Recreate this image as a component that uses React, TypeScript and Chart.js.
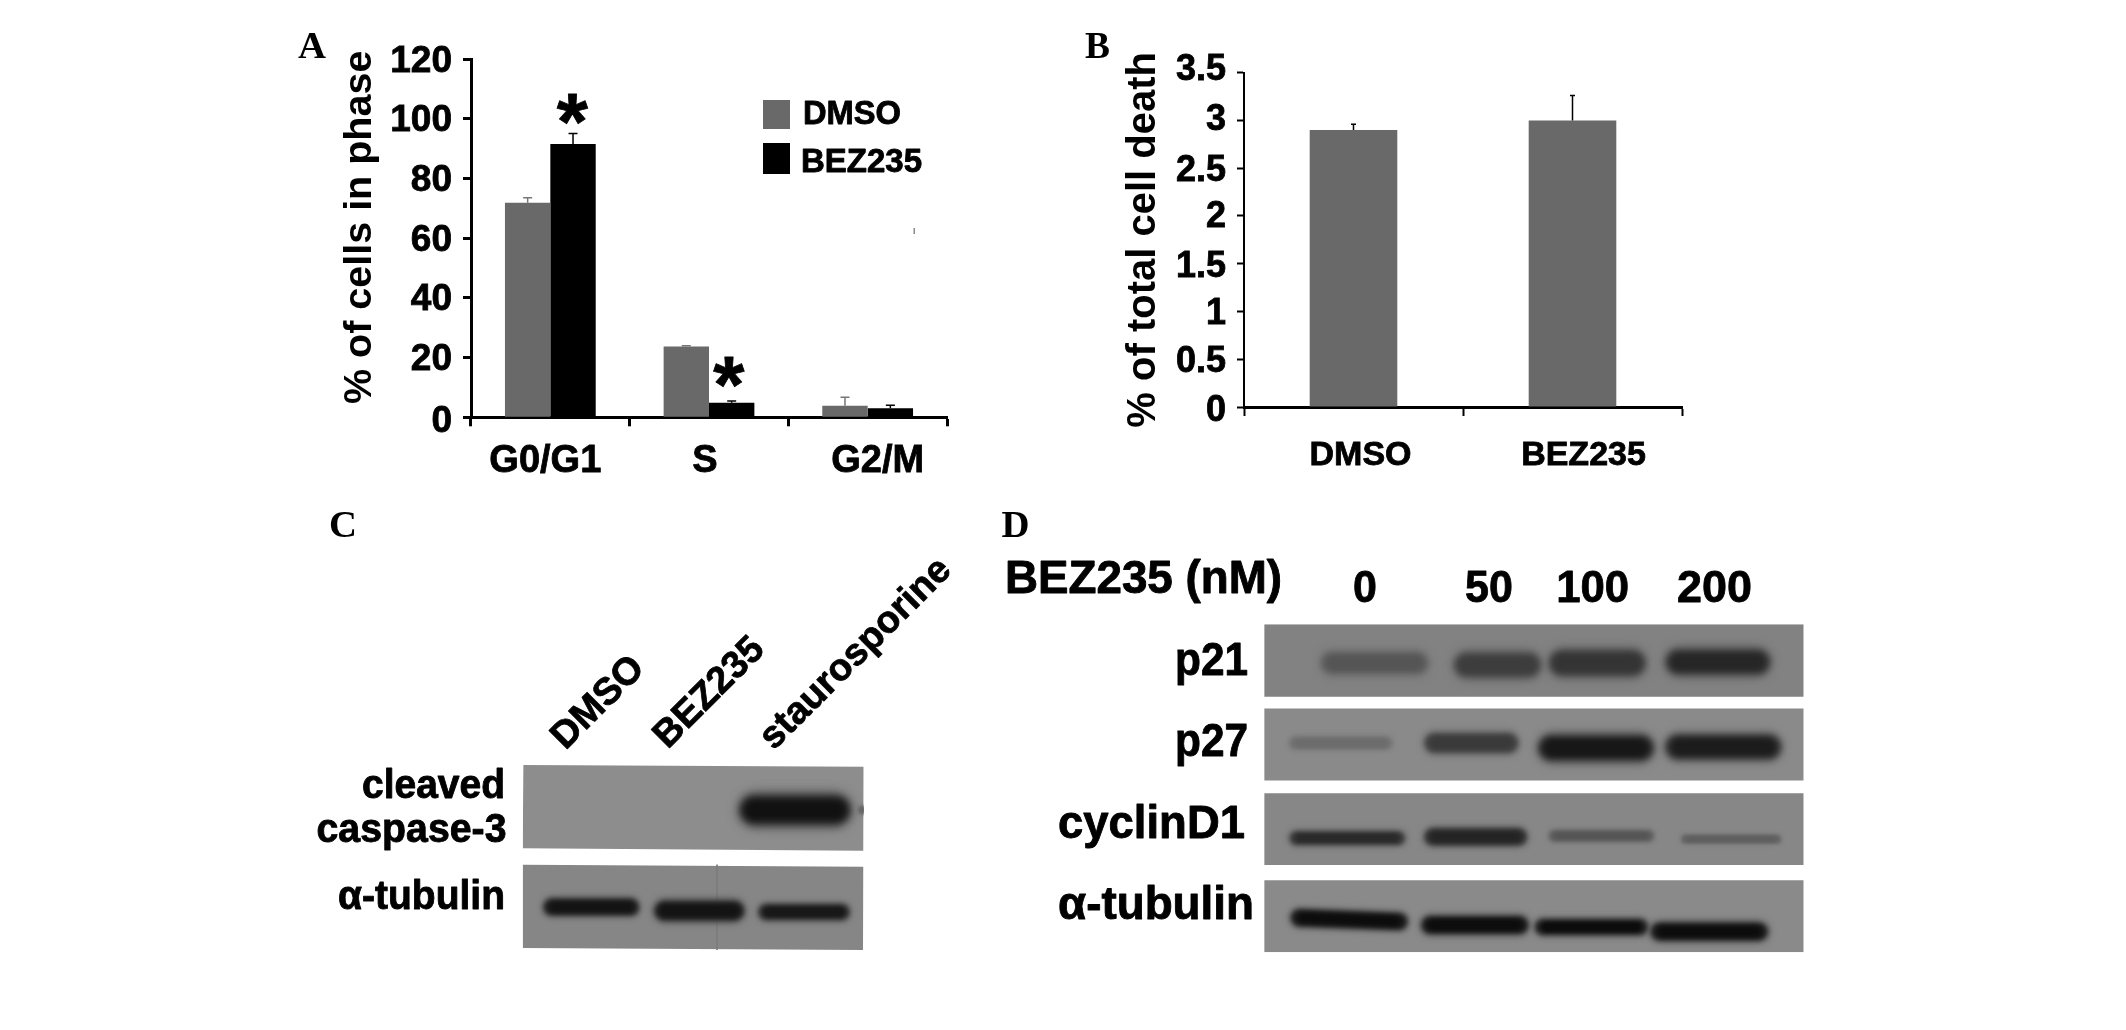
import React, { useEffect, useRef } from "react";
import { Chart, registerables } from "chart.js";

Chart.register(...registerables);

const SANS = "'Liberation Sans', Arial, sans-serif";
const SERIF = "'Liberation Serif', serif";
const BAR_GREY = "#696969";

// Panel A
const phaseLabels = ["G0/G1", "S", "G2/M"];
const dmsoPhase = [71.9, 23.7, 3.9];
const bezPhase = [91.6, 4.9, 3.0];
const dmsoPhaseTop = [73.6, 24.0, 6.7];
const bezPhaseTop = [95.1, 5.5, 4.0];
const phaseTicks = [0, 20, 40, 60, 80, 100, 120];

// Panel B
const deathLabels = ["DMSO", "BEZ235"];
const deathValues = [2.9, 3.0];
const deathTop = [2.96, 3.26];
const deathTicks = [0, 0.5, 1, 1.5, 2, 2.5, 3, 3.5];

// Panel C (positions in % of gel width / height; signal is band density 0..1)
const caspaseBands = [
  { from: 63.2, to: 96.5, y: 24.3, thick: 14.6, signal: 0.93 },
  { from: 99.4, to: 99.9, y: 24.3, thick: 4, signal: 0.3 },
];
const tubulinCBands = [
  { from: 5.8, to: 34.4, y: 76.8, thick: 8.1, signal: 0.92 },
  { from: 38.3, to: 65.3, y: 78.8, thick: 9.7, signal: 0.92 },
  { from: 68.9, to: 96.1, y: 79.5, thick: 7.6, signal: 0.88 },
];
const gelCStrips = [
  { shade: "#8d8d8d", corners: [[0.2, 0], [100, 0.9], [99.9, 46.3], [0, 45]] },
  { shade: "#868686", corners: [[0, 53.9], [99.9, 55], [99.8, 100], [0, 98.9]] },
];

// Panel D
const p21Bands = [
  { from: 10.3, to: 30.6, y: 11.8, thick: 6.1, signal: 0.42 },
  { from: 35, to: 51.5, y: 12.4, thick: 7, signal: 0.6 },
  { from: 52.6, to: 70.9, y: 11.8, thick: 7.3, signal: 0.67 },
  { from: 74.2, to: 94, y: 11.5, thick: 7, signal: 0.77 },
];
const p27Bands = [
  { from: 4.5, to: 23.9, y: 36.2, thick: 3.4, signal: 0.24 },
  { from: 29.5, to: 47.3, y: 36.2, thick: 5.5, signal: 0.62 },
  { from: 50.6, to: 72.4, y: 37.7, thick: 7, signal: 0.89 },
  { from: 74.2, to: 96, y: 37.4, thick: 6.7, signal: 0.85 },
];
const cyclinBands = [
  { from: 4.5, to: 26.3, y: 65.2, thick: 3.7, signal: 0.74 },
  { from: 29.5, to: 48.9, y: 64.8, thick: 4.6, signal: 0.79 },
  { from: 52.6, to: 72.4, y: 64.5, thick: 3, signal: 0.42 },
  { from: 77.1, to: 96, y: 65.5, thick: 2.4, signal: 0.34 },
];
const tubulinDBands = [
  { from: 4.7, to: 26.8, y: 89.5, y2: 90.6, thick: 4.6, signal: 0.97 },
  { from: 28.9, to: 49.2, y: 91.7, thick: 4.9, signal: 0.97 },
  { from: 50, to: 71.3, y: 92.3, thick: 4.3, signal: 0.97 },
  { from: 71.4, to: 93.6, y: 93.7, thick: 4.9, signal: 0.97 },
];
const gelDStrips = [
  { shade: "#828282", corners: [[0, 0], [100, 0], [100, 22.1], [0, 22.1]] },
  { shade: "#8a8a8a", corners: [[0, 25.7], [100, 25.7], [100, 47.6], [0, 47.6]] },
  { shade: "#878787", corners: [[0, 51.5], [100, 51.5], [100, 73.4], [0, 73.4]] },
  { shade: "#8a8a8a", corners: [[0, 78], [100, 78], [100, 100], [0, 100]] },
];

type Box = { left: number; top: number; right: number; bottom: number };
type Txt = {
  s: string; x: number; y: number; size: number; width?: number; tall?: number;
  align?: CanvasTextAlign; serif?: boolean; rot?: number; mid?: boolean;
};

const textLayer = (id: string, box: Box, items: Txt[]) => ({
  id,
  afterDraw(chart: any) {
    const ctx = chart.ctx;
    for (const t of items) {
      ctx.save();
      ctx.translate(t.x - box.left, t.y - box.top);
      if (t.rot) ctx.rotate((t.rot * Math.PI) / 180);
      ctx.font = `bold ${t.size}px ${t.serif ? SERIF : SANS}`;
      ctx.fillStyle = "#000";
      ctx.strokeStyle = "#000";
      ctx.lineWidth = t.serif ? 0 : 0.8;
      ctx.lineJoin = "round";
      ctx.textAlign = t.align || "left";
      ctx.textBaseline = t.mid ? "middle" : "alphabetic";
      const sx = t.width ? t.width / ctx.measureText(t.s).width : 1;
      ctx.scale(sx, t.tall || 1);
      ctx.fillText(t.s, 0, 0);
      if (!t.serif) ctx.strokeText(t.s, 0, 0);
      ctx.restore();
    }
  },
});

const errorBars = (tops: number[][], colors: string[], cap: number, lw: number) => ({
  id: "errorBars",
  afterDatasetsDraw(chart: any) {
    const ctx = chart.ctx;
    tops.forEach((arr, i) => {
      chart.getDatasetMeta(i).data.forEach((bar: any, j: number) => {
        const y = chart.scales.y.getPixelForValue(arr[j]);
        ctx.save();
        ctx.strokeStyle = colors[i];
        ctx.lineWidth = lw;
        ctx.beginPath();
        ctx.moveTo(bar.x, bar.y);
        ctx.lineTo(bar.x, y);
        ctx.moveTo(bar.x - cap, y);
        ctx.lineTo(bar.x + cap, y);
        ctx.stroke();
        ctx.restore();
      });
    });
  },
});

const shiftLabels = (xOffsets: number[], yOffsets: number[]) => ({
  id: "shiftLabels",
  beforeDraw(chart: any) {
    chart.scales.x.getLabelItems().forEach((it: any, i: number) => {
      if (it.__moved) return;
      it.__moved = true;
      const t = it.options.translation;
      it.options.translation = [t[0] + xOffsets[i], t[1]];
    });
    chart.scales.y.getLabelItems().forEach((it: any, i: number) => {
      if (it.__moved) return;
      it.__moved = true;
      const t = it.options.translation;
      it.options.translation = [t[0], t[1] + yOffsets[i]];
    });
  },
});

const legendLayer = (box: Box) => ({
  id: "phaseLegend",
  afterDraw(chart: any) {
    const ctx = chart.ctx;
    const spots = [
      { x: 763, y: 100, h: 29 },
      { x: 763, y: 143, h: 31 },
    ];
    chart.data.datasets.forEach((d: any, i: number) => {
      ctx.fillStyle = d.backgroundColor;
      ctx.fillRect(spots[i].x - box.left, spots[i].y - box.top, 27, spots[i].h);
    });
    ctx.fillStyle = "#8a8a8a";
    ctx.fillRect(913.5 - box.left, 228 - box.top, 1.5, 6);
  },
});

const blurLayer = {
  id: "blurLayer",
  beforeDatasetDraw(chart: any, args: any) {
    const b = chart.data.datasets[args.index].blur;
    if (b) {
      chart.ctx.save();
      chart.ctx.filter = `blur(${b}px)`;
    }
  },
  afterDatasetDraw(chart: any, args: any) {
    if (chart.data.datasets[args.index].blur) chart.ctx.restore();
  },
};

const grey = (signal: number) => {
  const g = Math.round(140 - 132 * signal);
  return `rgb(${g},${g},${g})`;
};

function gelDatasets(strips: any[], bands: any[], wPx: number, hPx: number, seams: number[] = []) {
  const out: any[] = [];
  strips.forEach((s) =>
    out.push({
      data: s.corners.map((c: number[]) => ({ x: c[0], y: c[1] })),
      borderWidth: 0, pointRadius: 0, backgroundColor: s.shade, borderColor: s.shade,
      fill: "shape", order: 10,
    })
  );
  seams.forEach((x) =>
    out.push({
      data: [{ x, y: 53.9 }, { x, y: 100 }],
      borderWidth: 1, pointRadius: 0, borderColor: "#7c7c7c", fill: false, order: 8,
    })
  );
  bands.forEach((b) => {
    const y2 = b.y2 ?? b.y;
    const px = (b.thick * hPx) / 100;
    const layer = (k: number, tail: number, signal: number, blur: number, order: number) => {
      const w = px * k;
      const inset = Math.min((w / 2 / wPx) * 100 + tail * (b.to - b.from), (b.to - b.from) / 2);
      out.push({
        data: [{ x: b.from + inset, y: b.y }, { x: b.to - inset, y: y2 }],
        borderWidth: w, borderCapStyle: "round", pointRadius: 0, fill: false,
        borderColor: grey(signal), blur, order, clip: 0,
      });
    };
    layer(1.3, 0, b.signal * 0.55, 1 + px * 0.16, 6);
    layer(1, 0.02, b.signal * 0.9, 1 + px * 0.1, 5);
    layer(0.65, 0.07, b.signal, 1 + px * 0.06, 1);
  });
  return out;
}

function useChart(make: (c: HTMLCanvasElement) => any) {
  const ref = useRef<HTMLCanvasElement | null>(null);
  useEffect(() => {
    const c = make(ref.current as HTMLCanvasElement);
    return () => c.destroy();
  }, []);
  return ref;
}

const boxStyle = (b: Box): React.CSSProperties => ({
  position: "absolute", left: b.left, top: b.top, width: b.right - b.left, height: b.bottom - b.top, display: "block",
});

const axisBase = (tickLen: number, tickW: number, bw: number) => ({
  grid: { drawOnChartArea: false, tickLength: tickLen, tickWidth: tickW, tickColor: "#000" },
  border: { color: "#000", width: bw },
});

const boxA: Box = { left: 280, top: 20, right: 980, bottom: 490 };
const boxB: Box = { left: 1060, top: 20, right: 1720, bottom: 490 };
const boxC: Box = { left: 300, top: 500, right: 985, bottom: 1000 };
const boxD: Box = { left: 990, top: 500, right: 1820, bottom: 1000 };

const textA: Txt[] = [
  { s: "A", x: 298, y: 58, size: 38, serif: true, width: 28 },
  { s: "*", x: 572.4, y: 149, size: 80, align: "center" },
  { s: "*", x: 728.7, y: 412, size: 80, align: "center" },
  { s: "DMSO", x: 803, y: 124, size: 31, width: 98, tall: 1.08 },
  { s: "BEZ235", x: 801, y: 172, size: 31, width: 121, tall: 1.08 },
];
const textB: Txt[] = [{ s: "B", x: 1085, y: 58, size: 38, serif: true, width: 25 }];
const textC: Txt[] = [
  { s: "C", x: 329, y: 537, size: 38, serif: true, width: 28 },
  { s: "DMSO", x: 598.5, y: 703, size: 38, align: "center", rot: -45, mid: true },
  { s: "BEZ235", x: 709.5, y: 693, size: 38, align: "center", rot: -45, mid: true },
  { s: "staurosporine", x: 856, y: 654, size: 38, align: "center", rot: -45, mid: true },
  { s: "cleaved", x: 505, y: 798, size: 37, align: "right", width: 143, tall: 1.08 },
  { s: "caspase-3", x: 506.5, y: 841.7, size: 37, align: "right", width: 190, tall: 1.08 },
  { s: "α-tubulin", x: 505, y: 909.3, size: 37, align: "right", width: 167, tall: 1.08 },
];
const textD: Txt[] = [
  { s: "D", x: 1001.6, y: 537, size: 38, serif: true, width: 28 },
  { s: "BEZ235 (nM)", x: 1005, y: 592.7, size: 41, width: 277, tall: 1.12 },
  { s: "0", x: 1365, y: 601.7, size: 43, align: "center", tall: 1.05 },
  { s: "50", x: 1489, y: 601.7, size: 43, align: "center", tall: 1.05 },
  { s: "100", x: 1592.7, y: 601.7, size: 43, align: "center", width: 73, tall: 1.05 },
  { s: "200", x: 1714.6, y: 601.7, size: 43, align: "center", width: 75, tall: 1.05 },
  { s: "p21", x: 1248, y: 675, size: 42, align: "right", width: 73, tall: 1.12 },
  { s: "p27", x: 1248, y: 756, size: 42, align: "right", width: 73, tall: 1.12 },
  { s: "cyclinD1", x: 1058, y: 838, size: 42, width: 187, tall: 1.12 },
  { s: "α-tubulin", x: 1058, y: 919, size: 42, width: 196, tall: 1.12 },
];

const tickFont = (size: number) => ({
  color: "#000", textStrokeColor: "#000", textStrokeWidth: 0.8,
  font: { family: SANS, weight: "bold", size },
});

function barOptions(box: Box, plot: Box, y: any, x: any, catPct: number) {
  return {
    responsive: false,
    animation: false as const,
    layout: { padding: { top: plot.top - box.top, right: box.right - plot.right, left: 0, bottom: 0 } },
    plugins: { legend: { display: false }, tooltip: { enabled: false } },
    datasets: { bar: { categoryPercentage: catPct, barPercentage: 1 } },
    scales: {
      x: { ...x, afterFit: (s: any) => { s.height = box.bottom - plot.bottom; } },
      y: { ...y, afterFit: (s: any) => { s.width = plot.left - box.left; } },
    },
  };
}

function PanelA() {
  const plot: Box = { left: 471, top: 59.3, right: 947, bottom: 417.3 };
  const ref = useChart((c) =>
    new Chart(c, {
      type: "bar",
      data: {
        labels: phaseLabels,
        datasets: [
          { label: "DMSO", data: dmsoPhase, backgroundColor: BAR_GREY },
          { label: "BEZ235", data: bezPhase, backgroundColor: "#000000" },
        ],
      },
      options: barOptions(
        boxA, plot,
        {
          min: 0, max: 120,
          afterBuildTicks: (s: any) => { s.ticks = phaseTicks.map((value) => ({ value })); },
          ticks: { padding: 11, ...tickFont(37) },
          title: {
            display: true, text: "  % of cells in phase", color: "#000", padding: { top: 60, bottom: 0 },
            font: { family: SANS, weight: "bold", size: 39.5, lineHeight: 1 },
          },
          ...axisBase(8, 3, 3),
        },
        {
          ticks: { padding: 12, maxRotation: 0, minRotation: 0, ...tickFont(38) },
          ...axisBase(9, 3, 3),
        },
        0.572
      ) as any,
      plugins: [
        errorBars([dmsoPhaseTop, bezPhaseTop], ["#777777", "#000000"], 4.5, 1.5),
        shiftLabels([-5, -4, 10], [4, 2, 2, 2, 2, 2, 2]),
        legendLayer(boxA),
        textLayer("textA", boxA, textA),
      ],
    })
  );
  return <canvas ref={ref} width={700} height={470} style={boxStyle(boxA)} />;
}

function PanelB() {
  const plot: Box = { left: 1244, top: 72.7, right: 1682, bottom: 407 };
  const ref = useChart((c) =>
    new Chart(c, {
      type: "bar",
      data: {
        labels: deathLabels,
        datasets: [{ label: "% of total cell death", data: deathValues, backgroundColor: BAR_GREY }],
      },
      options: barOptions(
        boxB, plot,
        {
          min: 0, max: 3.5,
          afterBuildTicks: (s: any) => { s.ticks = deathTicks.map((value) => ({ value })); },
          ticks: { padding: 11, callback: (v: number) => String(v), ...tickFont(36) },
          title: {
            display: true, text: "% of total cell death", color: "#000", padding: { top: 64, bottom: 0 },
            font: { family: SANS, weight: "bold", size: 40, lineHeight: 1 },
          },
          ...axisBase(7, 2, 2),
        },
        {
          ticks: { padding: 19, maxRotation: 0, minRotation: 0, ...tickFont(34) },
          ...axisBase(9, 2, 3),
        },
        0.4
      ) as any,
      plugins: [
        errorBars([deathTop], ["#000000"], 2.5, 1.5),
        shiftLabels([7, 11], [4, 3, 3, 3, 1, 3, 0, -3]),
        textLayer("textB", boxB, textB),
      ],
    })
  );
  return <canvas ref={ref} width={660} height={470} style={boxStyle(boxB)} />;
}

function gelOptions(box: Box, plot: Box) {
  return {
    responsive: false,
    animation: false as const,
    layout: {
      padding: {
        left: plot.left - box.left, top: plot.top - box.top,
        right: box.right - plot.right, bottom: box.bottom - plot.bottom,
      },
    },
    plugins: { legend: { display: false }, tooltip: { enabled: false } },
    scales: {
      x: { type: "linear", min: 0, max: 100, display: false },
      y: { type: "linear", min: 0, max: 100, reverse: true, display: false },
    },
  };
}

function PanelC() {
  const plot: Box = { left: 522.7, top: 765, right: 863.7, bottom: 950 };
  const ref = useChart((c) =>
    new Chart(c, {
      type: "line",
      data: {
        datasets: gelDatasets(gelCStrips, [...caspaseBands, ...tubulinCBands], 341, 185, [57]),
      },
      options: gelOptions(boxC, plot) as any,
      plugins: [blurLayer, textLayer("textC", boxC, textC)],
    })
  );
  return <canvas ref={ref} width={685} height={500} style={boxStyle(boxC)} />;
}

function PanelD() {
  const plot: Box = { left: 1264.2, top: 624.3, right: 1803.7, bottom: 952.3 };
  const ref = useChart((c) =>
    new Chart(c, {
      type: "line",
      data: {
        datasets: gelDatasets(gelDStrips, [...p21Bands, ...p27Bands, ...cyclinBands, ...tubulinDBands], 539.5, 328),
      },
      options: gelOptions(boxD, plot) as any,
      plugins: [blurLayer, textLayer("textD", boxD, textD)],
    })
  );
  return <canvas ref={ref} width={830} height={500} style={boxStyle(boxD)} />;
}

export default function App() {
  return (
    <div style={{ position: "absolute", left: 0, top: 0, width: 2126, height: 1030, background: "#fff", overflow: "hidden" }}>
      <PanelA />
      <PanelB />
      <PanelC />
      <PanelD />
    </div>
  );
}
